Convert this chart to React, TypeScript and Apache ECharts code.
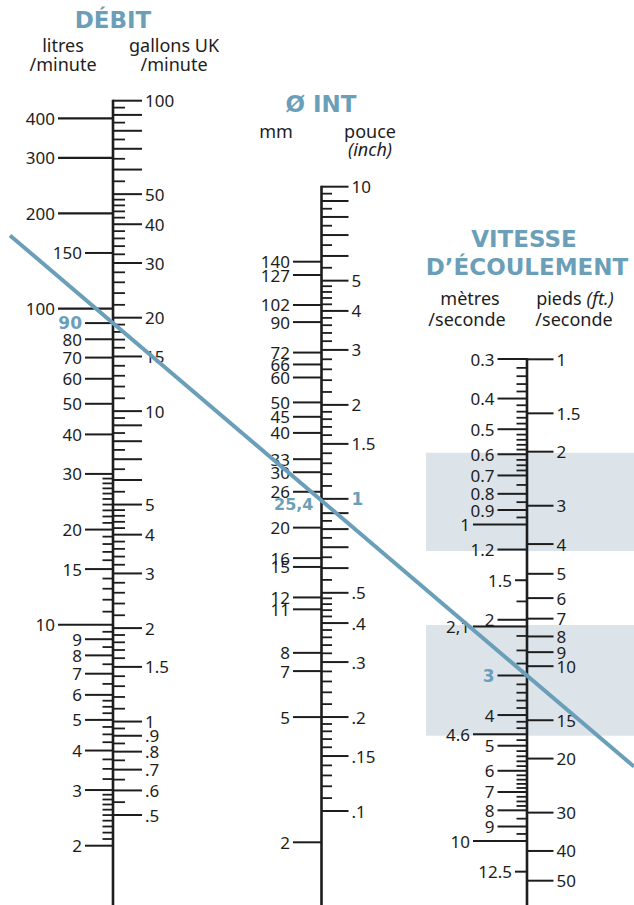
import React, { useEffect, useRef } from "react";
import * as echarts from "echarts";

// ---------------- DATA ----------------
// DÉBIT — litres / minute (left side of the first scale)
const litresLabels = [400, 300, 200, 150, 100, 90, 80, 70, 60, 50, 40, 30, 20, 15, 10, 9, 8, 7, 6, 5, 4, 3, 2];
const litresLong = [400, 300, 200, 100, 10];
const litresMinor = [29, 28, 27, 26, 25, 24, 23, 22, 21, 19, 18, 17, 16, 14, 13, 12, 11, 9.5, 8.5, 7.5, 6.5,
  5.75, 5.5, 5.25, 4.75, 4.5, 4.25, 3.75, 3.5, 3.25, 2.9, 2.8, 2.7, 2.6, 2.5, 2.4, 2.3, 2.2, 2.1];
const litresReading = 90;

// DÉBIT — gallons UK / minute (right side)
const gallonsLabels = [100, 50, 40, 30, 20, 15, 10, 5, 4, 3, 2, 1.5, 1, 0.9, 0.8, 0.7, 0.6, 0.5];
const gallonsText = ["100", "50", "40", "30", "20", "15", "10", "5", "4", "3", "2", "1.5", "1", ".9", ".8", ".7", ".6", ".5"];
const gallonsLong = [90, 80, 70, 60, 9, 8, 7, 6];
const gallonsMinor = [95, 85, 75, 65, 55, 48, 46, 44, 42, 38, 36, 34, 32, 28, 26, 24, 22, 19, 18, 17, 16,
  14, 13, 12, 11, 9.5, 8.5, 7.5, 6.5, 5.5, 4.8, 4.6, 4.4, 4.2, 3.8, 3.6, 3.4, 3.2, 2.8, 2.6, 2.4, 2.2,
  1.9, 1.8, 1.7, 1.6, 1.4, 1.3, 1.2, 1.1, 0.95, 0.85, 0.75, 0.65, 0.55];

// Ø INT — mm (left)
const mmLabels = [140, 127, 102, 90, 72, 66, 60, 50, 45, 40, 33, 30, 26, 20, 16, 15, 12, 11, 8, 7, 5, 2];
const mmReading = 25.4;
const mmReadingText = "25,4";

// Ø INT — pouce / inch (right)
const inchLabels = [10, 5, 4, 3, 2, 1.5, 1, 0.5, 0.4, 0.3, 0.2, 0.15, 0.1];
const inchText = ["10", "5", "4", "3", "2", "1.5", "1", ".5", ".4", ".3", ".2", ".15", ".1"];
const inchLong = [9, 8, 7, 6, 0.9, 0.8, 0.7, 0.6];
const inchMinor = [9.5, 8.5, 7.5, 6.5, 5.5, 4.8, 4.6, 4.4, 4.2, 3.8, 3.6, 3.4, 3.2, 2.8, 2.6, 2.4, 2.2,
  1.9, 1.8, 1.7, 1.6, 1.4, 1.3, 1.2, 1.1, 0.85, 0.75, 0.65, 0.55, 0.48, 0.46, 0.44, 0.42,
  0.38, 0.36, 0.34, 0.32, 0.28, 0.26, 0.24, 0.22, 0.19, 0.18, 0.17, 0.16, 0.14, 0.13, 0.12, 0.11];
const inchReading = 1;

// VITESSE — mètres / seconde (left)
const msLabels = [0.3, 0.4, 0.5, 0.6, 0.7, 0.8, 0.9, 1, 1.2, 1.5, 2, 2.1, 3, 4, 4.6, 5, 6, 7, 8, 9, 10, 12.5];
const msText = ["0.3", "0.4", "0.5", "0.6", "0.7", "0.8", "0.9", "1", "1.2", "1.5", "2", "2,1", "3", "4", "4.6",
  "5", "6", "7", "8", "9", "10", "12.5"];
const msLong = [1, 2.1, 4.6, 10];
const msShortLabelled = [1.5, 12.5];
const msMinor = [0.32, 0.34, 0.36, 0.38, 0.42, 0.44, 0.46, 0.48, 0.52, 0.54, 0.56, 0.58, 0.625, 0.65, 0.675,
  0.75, 0.85, 0.95, 1.75, 2.25, 2.5, 2.75, 3.2, 3.4, 3.6, 3.8, 4.2, 4.4, 4.8, 5.2, 5.4, 5.6, 5.8,
  6.2, 6.4, 6.6, 6.8, 7.25, 7.5, 7.75, 8.5, 9.5];
const msReading = 3;
const msZones = [[0.6, 1.2], [2.1, 4.6]];

// VITESSE — pieds / seconde (right)
const ftLabels = [1, 1.5, 2, 3, 4, 5, 6, 7, 8, 9, 10, 15, 20, 30, 40, 50];

// ---------------- LAYOUT / STYLE ----------------
const W = 634;
const H = 905;
const X_DEBIT = 113;
const X_INT = 321.5;
const X_VIT = 527;
const BLUE = "#6b9fb9";
const ZONE = "#dce4ea";
const INK = "#1d1d1d";
const FONT = '"Noto Sans", "DejaVu Sans", sans-serif';
const BOLD_FONT = '"DejaVu Sans", "Noto Sans", sans-serif';

// calibration of each log scale: two (value, pixel) anchors
const CAL: [number, number][][] = [
  [[400, 118.3], [2, 845.7]], // litres
  [[100, 100.7], [0.5, 815]], // gallons
  [[140, 261.7], [2, 842.3]], // mm
  [[10, 186.7], [0.1, 811]], // inch
  [[0.3, 359], [10, 841]], // m/s
  [[1, 359.3], [50, 880.7]], // ft/s
];

function range(c: [number, number][]) {
  const [[v1, p1], [v2, p2]] = c;
  const d = (p2 - p1) / (Math.log10(v1) - Math.log10(v2));
  return { max: Math.log10(v1) + p1 / d, min: Math.log10(v1) - (H - p1) / d };
}

type Tick = { v: number; kind: string; text?: string; blue?: boolean; dy?: number };

function sideSeries(yAxisIndex: number, side: "left" | "right", axisX: number, items: Tick[], geom: Record<string, number>) {
  const dir = side === "left" ? -1 : 1;
  return {
    type: "custom",
    xAxisIndex: 0,
    yAxisIndex,
    silent: true,
    z: 3,
    data: items.map((t) => [axisX, Math.log10(t.v)]),
    renderItem: (params: any, api: any) => {
      const t = items[params.dataIndex];
      const p = api.coord([axisX, Math.log10(t.v)]);
      const x0 = p[0];
      const y = p[1];
      const children: any[] = [];
      if (t.kind === "R") {
        children.push({
          type: "text",
          style: {
            text: t.text, x: x0 - 8, y: y + (t.dy || 0), align: "right", verticalAlign: "middle",
            fill: BLUE, fontSize: 16, fontWeight: "bold", fontFamily: BOLD_FONT,
          },
        });
        return { type: "group", children };
      }
      const len = geom[t.kind];
      children.push({
        type: "line",
        shape: { x1: x0, y1: y, x2: x0 + dir * len, y2: y },
        style: { stroke: INK, lineWidth: t.kind === "m" ? 1.8 : t.kind === "LL" ? 2.2 : 2 },
      });
      if (t.text) {
        children.push({
          type: "text",
          style: {
            text: t.text,
            x: x0 + dir * (len + 3),
            y: y + (t.dy || 0),
            align: side === "left" ? "right" : "left",
            verticalAlign: "middle",
            fill: t.blue ? BLUE : INK,
            fontSize: t.blue ? 17 : 17,
            fontWeight: t.blue ? "bold" : "normal",
            fontFamily: t.blue ? BOLD_FONT : FONT,
          },
        });
      }
      return { type: "group", children };
    },
  };
}

function axisLineSeries(yAxisIndex: number, axisX: number, topValue: number) {
  return {
    type: "custom",
    xAxisIndex: 0,
    yAxisIndex,
    silent: true,
    z: 4,
    data: [[axisX, Math.log10(topValue)]],
    renderItem: (params: any, api: any) => {
      const p = api.coord([axisX, Math.log10(topValue)]);
      return {
        type: "line",
        shape: { x1: p[0], y1: p[1] - 1, x2: p[0], y2: api.getHeight() },
        style: { stroke: INK, lineWidth: 2.6 },
      };
    },
  };
}

function buildOption() {
  const litres: Tick[] = [
    ...litresLabels.map((v) => ({ v, kind: litresLong.includes(v) ? "LL" : "L", text: String(v), blue: v === litresReading })),
    ...litresMinor.map((v) => ({ v, kind: "m" })),
  ];
  const gallons: Tick[] = [
    ...gallonsLabels.map((v, i) => ({ v, kind: "L", text: gallonsText[i] })),
    ...gallonsLong.map((v) => ({ v, kind: "L" })),
    ...gallonsMinor.map((v) => ({ v, kind: "m" })),
  ];
  const mm: Tick[] = [
    ...mmLabels.map((v) => ({ v, kind: "L", text: String(v) })),
    { v: mmReading, kind: "R", text: mmReadingText, dy: 10 },
  ];
  const inch: Tick[] = [
    ...inchLabels.map((v, i) => ({ v, kind: "L", text: inchText[i], blue: v === inchReading })),
    ...inchLong.map((v) => ({ v, kind: "L" })),
    ...inchMinor.map((v) => ({ v, kind: "m" })),
  ];
  const ms: Tick[] = [
    ...msLabels.map((v, i) => ({
      v,
      kind: msLong.includes(v) ? "LL" : msShortLabelled.includes(v) ? "LS" : "L",
      text: msText[i],
      blue: v === msReading,
    })),
    ...msMinor.map((v) => ({ v, kind: "m" })),
  ];
  const ft: Tick[] = ftLabels.map((v) => ({ v, kind: "L", text: String(v) }));

  const yAxes = CAL.map((c) => ({ type: "value", show: false, ...range(c) }));

  const zoneSeries = {
    type: "custom",
    xAxisIndex: 0,
    yAxisIndex: 4,
    silent: true,
    z: 1,
    data: msZones.map((z) => [Math.log10(z[0]), Math.log10(z[1])]),
    renderItem: (params: any, api: any) => {
      const z = msZones[params.dataIndex];
      const a = api.coord([426, Math.log10(z[0])]);
      const b = api.coord([W, Math.log10(z[1])]);
      return {
        type: "rect",
        shape: { x: a[0], y: a[1] - 1.5, width: b[0] - a[0], height: b[1] - a[1] + 3 },
        style: { fill: ZONE },
      };
    },
  };

  const title = (id: string, text: string, x: number, y: number) => ({
    id, type: "text", x, y, z: 5,
    style: { text, fill: BLUE, fontSize: 23, fontWeight: "bold", fontFamily: BOLD_FONT, align: "center", verticalAlign: "middle" },
  });
  const sub = (id: string, text: string, x: number, y: number, italic = false) => ({
    id, type: "text", x, y, z: 5,
    style: { text, fill: INK, fontSize: 18, fontFamily: FONT, fontStyle: italic ? "italic" : "normal", align: "center", verticalAlign: "middle" },
  });

  return {
    animation: false,
    backgroundColor: "#ffffff",
    grid: { left: 0, right: 0, top: 0, bottom: 0, containLabel: false },
    xAxis: { type: "value", min: 0, max: W, show: false },
    yAxis: yAxes,
    graphic: {
      elements: [
        title("t1", "DÉBIT", 113, 20),
        sub("s1", "litres", 63, 45),
        sub("s2", "/minute", 63, 64),
        sub("s3", "gallons UK", 174, 45),
        sub("s4", "/minute", 174, 64),
        title("t2", "Ø INT", 321, 104),
        sub("s5", "mm", 276, 131),
        sub("s6", "pouce", 370, 131),
        sub("s7", "(inch)", 370, 149, true),
        title("t3", "VITESSE", 524, 239),
        title("t4", "D’ÉCOULEMENT", 527, 267),
        sub("s8", "mètres", 470, 298),
        sub("s9", "/seconde", 467, 319),
        {
          id: "s10", type: "text", x: 575, y: 298, z: 5,
          style: {
            text: "pieds {i|(ft.)}", fill: INK, fontSize: 18, fontFamily: FONT, align: "center", verticalAlign: "middle",
            rich: { i: { fontStyle: "italic", fontSize: 18, fontFamily: FONT, fill: INK } },
          },
        },
        sub("s11", "/seconde", 574, 319),
      ],
    },
    series: [
      zoneSeries,
      axisLineSeries(1, X_DEBIT, gallonsLabels[0]),
      axisLineSeries(3, X_INT, inchLabels[0]),
      axisLineSeries(5, X_VIT, ftLabels[0]),
      sideSeries(0, "left", X_DEBIT, litres, { LL: 55, L: 28, m: 10.5 }),
      sideSeries(1, "right", X_DEBIT, gallons, { L: 29, m: 12 }),
      sideSeries(2, "left", X_INT, mm, { L: 28.5, m: 10.5 }),
      sideSeries(3, "right", X_INT, inch, { L: 27, m: 10.5 }),
      sideSeries(4, "left", X_VIT, ms, { LL: 54, L: 29.5, LS: 12, m: 10.5 }),
      sideSeries(5, "right", X_VIT, ft, { L: 26.5 }),
    ],
  };
}

export default function App() {
  const ref = useRef<HTMLDivElement>(null);
  useEffect(() => {
    const el = ref.current;
    if (!el) return;
    const chart = echarts.init(el, null, { renderer: "svg", width: W, height: H });
    chart.setOption(buildOption() as any);
    // reading line through 90 l/min and 3 m/s (passes 25,4 mm)
    const pA = chart.convertToPixel({ xAxisIndex: 0, yAxisIndex: 0 } as any, [X_DEBIT, Math.log10(litresReading)]) as number[];
    const pB = chart.convertToPixel({ xAxisIndex: 0, yAxisIndex: 4 } as any, [X_VIT, Math.log10(msReading)]) as number[];
    const slope = (pB[1] - pA[1]) / (pB[0] - pA[0]);
    const xs = 10;
    const xe = W;
    chart.setOption({
      graphic: {
        elements: [
          {
            id: "reading", type: "line", z: 20, silent: true,
            shape: { x1: xs, y1: pA[1] + (xs - pA[0]) * slope, x2: xe, y2: pA[1] + (xe - pA[0]) * slope },
            style: { stroke: BLUE, lineWidth: 4 },
          },
        ],
      },
    } as any);
    return () => chart.dispose();
  }, []);
  return <div ref={ref} style={{ position: "fixed", left: 0, top: 0, width: W, height: H, background: "#fff" }} />;
}
